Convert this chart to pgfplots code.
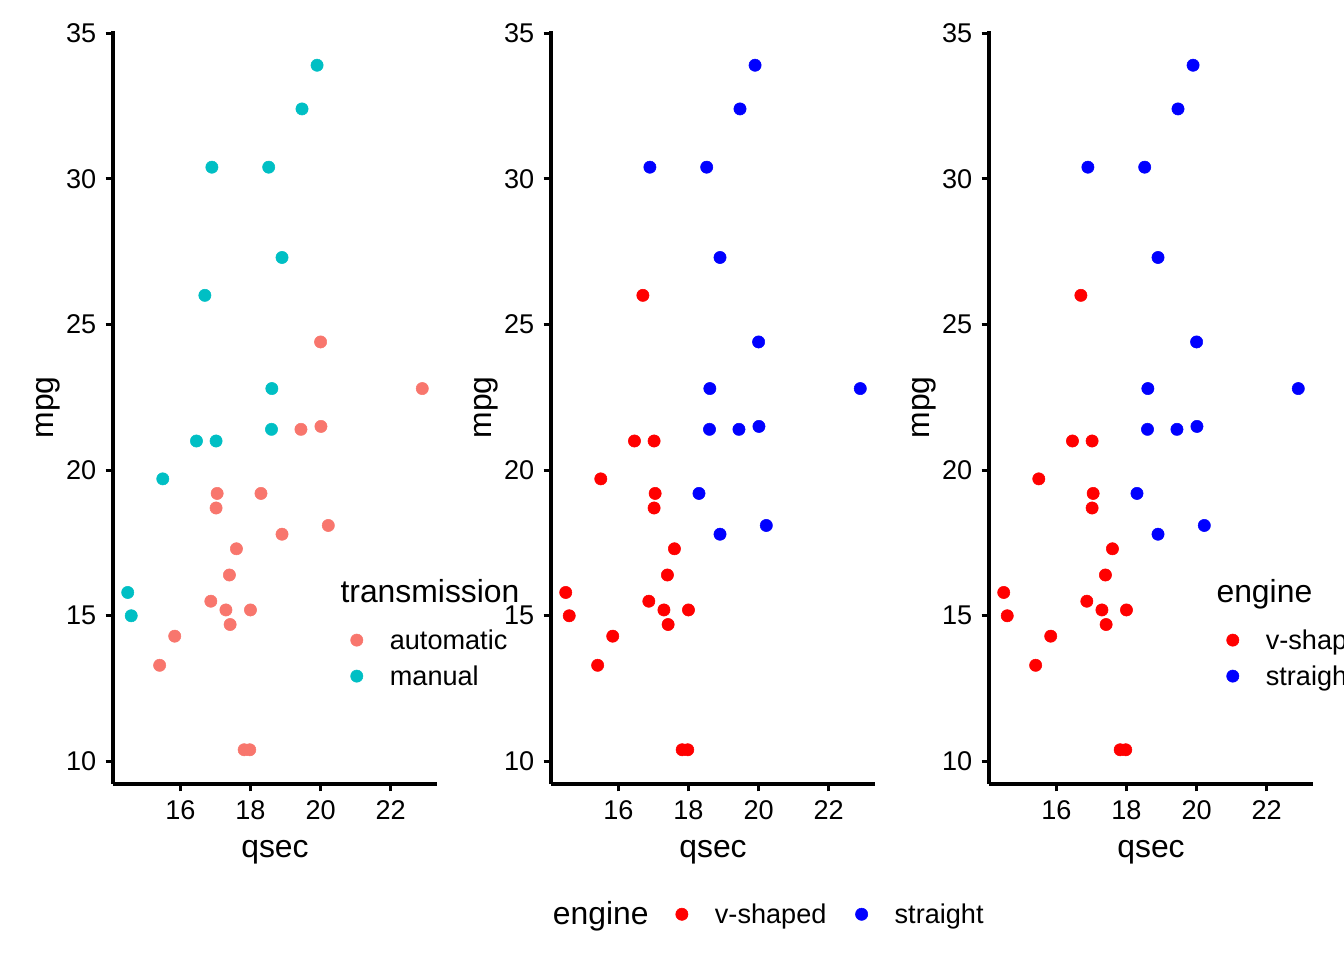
\documentclass[border=0pt]{standalone}
\usepackage{pgfplots}
\pgfplotsset{compat=1.18}
\usepackage{pgfplotstable}
\usepackage{fontspec}
\setmainfont{Liberation Sans}
\definecolor{cauto}{HTML}{F8766D}
\definecolor{cmanu}{HTML}{00BFC4}
\definecolor{cvsh}{HTML}{FF0000}
\definecolor{cstr}{HTML}{0000FF}

\pgfplotstableread{
x y
19.44 21.4
17.02 18.7
20.22 18.1
15.84 14.3
20.00 24.4
22.90 22.8
18.30 19.2
18.90 17.8
17.40 16.4
17.60 17.3
18.00 15.2
17.98 10.4
17.82 10.4
17.42 14.7
20.01 21.5
16.87 15.5
17.30 15.2
15.41 13.3
17.05 19.2
}\automatic
\pgfplotstableread{
x y
16.46 21.0
17.02 21.0
18.61 22.8
19.47 32.4
18.52 30.4
19.90 33.9
18.90 27.3
16.70 26.0
16.90 30.4
14.50 15.8
15.50 19.7
14.60 15.0
18.60 21.4
}\manual
\pgfplotstableread{
x y
16.46 21.0
17.02 21.0
17.02 18.7
15.84 14.3
17.40 16.4
17.60 17.3
18.00 15.2
17.98 10.4
17.82 10.4
17.42 14.7
16.87 15.5
17.30 15.2
15.41 13.3
17.05 19.2
16.70 26.0
14.50 15.8
15.50 19.7
14.60 15.0
}\vshaped
\pgfplotstableread{
x y
18.61 22.8
19.44 21.4
20.22 18.1
20.00 24.4
22.90 22.8
18.30 19.2
18.90 17.8
19.47 32.4
18.52 30.4
19.90 33.9
20.01 21.5
18.90 27.3
16.90 30.4
18.60 21.4
}\straight

\pgfplotsset{
  panel/.style={
    scale only axis, width=121.5bp, height=282.375bp,
    xmin=14.08, xmax=23.32, ymin=9.225, ymax=35.075,
    axis lines*=left,
    axis line style={-, line width=1.2bp, black},
    tick align=outside, major tick length=2.75bp,
    tick style={line width=1.2bp, black},
    xtick={16,18,20,22}, ytick={10,15,20,25,30,35},
    ticklabel style={font=\fontsize{10.2}{12}\selectfont, text=black},
    /pgf/number format/assume math mode=true,
    xlabel=qsec, ylabel=mpg,
    label style={font=\fontsize{12}{14}\selectfont},
    xlabel style={at={([yshift=-25.5bp]rel axis cs:0.5,0)}, anchor=center},
    ylabel style={at={([xshift=-24.4bp]rel axis cs:0,0.5)}, anchor=center},
    clip=false,
    legend image code/.code={\draw[##1] plot coordinates {(0bp,0bp)};},
    legend cell align=left,
    legend style={draw=none, fill=none, inner sep=0pt, outer sep=0pt,
      font=\fontsize{10.2}{12}\selectfont, row sep=6.2bp,
      nodes={inner sep=0pt, text height=7bp, text depth=0.3bp},
      /tikz/every odd column/.append style={column sep=10.1bp}},
  },
  dot/.style={only marks, mark=*, mark size=2.3bp, color=#1,
    mark options={draw=#1, fill=#1, line width=0.2bp}},
}

\begin{document}
\begin{tikzpicture}
\useasboundingbox (0,0) rectangle (504bp,360bp);
\clip (0,0) rectangle (504bp,360bp);

% Panel 1
\begin{axis}[panel, at={(42.375bp,66bp)}, anchor=south west,
  legend style={at={(0.7335,0.2040)}, anchor=north west}]
  \addplot[dot=cauto] table {\automatic};
  \addlegendentry{automatic}
  \addplot[dot=cmanu] table {\manual};
  \addlegendentry{manual}
  \node[anchor=base west, inner sep=0pt, font=\fontsize{12}{14}\selectfont]
    at (rel axis cs:0.7006,0.241) {transmission};
\end{axis}

% Panel 2
\begin{axis}[panel, at={(206.625bp,66bp)}, anchor=south west,
  legend columns=2,
  legend style={at={(0.3850,-0.173)}, anchor=west,
    /tikz/every even column/.append style={column sep=10.9bp}}]
  \addplot[dot=cvsh] table {\vshaped};
  \addlegendentry{v-shaped}
  \addplot[dot=cstr] table {\straight};
  \addlegendentry{straight}
  \node[anchor=base west, inner sep=0pt, font=\fontsize{12}{14}\selectfont]
    at (rel axis cs:0.004,-0.186) {engine};
\end{axis}

% Panel 3
\begin{axis}[panel, at={(370.875bp,66bp)}, anchor=south west,
  legend style={at={(0.7335,0.2040)}, anchor=north west}]
  \addplot[dot=cvsh] table {\vshaped};
  \addlegendentry{v-shaped}
  \addplot[dot=cstr] table {\straight};
  \addlegendentry{straight}
  \node[anchor=base west, inner sep=0pt, font=\fontsize{12}{14}\selectfont]
    at (rel axis cs:0.7006,0.241) {engine};
\end{axis}
\end{tikzpicture}
\end{document}
